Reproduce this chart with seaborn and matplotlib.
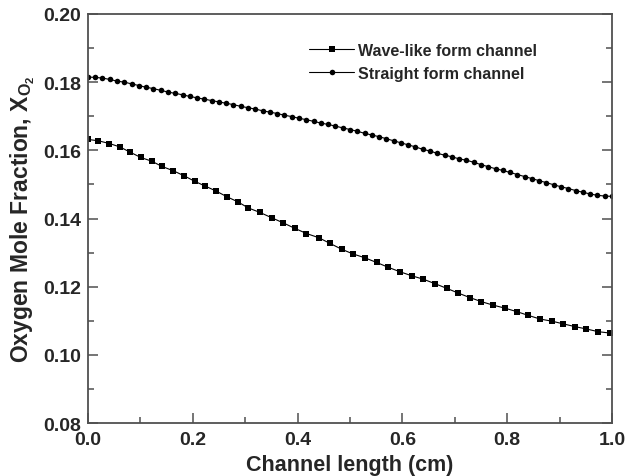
import matplotlib
matplotlib.use("Agg")
import matplotlib.pyplot as plt
import seaborn as sns
import pandas as pd
from matplotlib.ticker import MultipleLocator

# Wave-like form channel: oxygen mole fraction along the channel
wave_x = [0.000, 0.020, 0.041, 0.061, 0.080, 0.101, 0.122, 0.141, 0.163, 0.184,
          0.204, 0.224, 0.244, 0.265, 0.286, 0.306, 0.328, 0.351, 0.373, 0.395,
          0.417, 0.440, 0.462, 0.484, 0.506, 0.528, 0.551, 0.573, 0.595, 0.618,
          0.640, 0.662, 0.685, 0.707, 0.729, 0.751, 0.773, 0.796, 0.818, 0.840,
          0.863, 0.885, 0.907, 0.929, 0.951, 0.974, 0.996]
wave_y = [0.1632, 0.1628, 0.1620, 0.1610, 0.1595, 0.1579, 0.1568, 0.1553, 0.1540, 0.1525,
          0.1509, 0.1495, 0.1481, 0.1464, 0.1449, 0.1431, 0.1418, 0.1402, 0.1387, 0.1371,
          0.1356, 0.1344, 0.1327, 0.1310, 0.1296, 0.1285, 0.1271, 0.1257, 0.1244, 0.1232,
          0.1222, 0.1209, 0.1195, 0.1181, 0.1168, 0.1156, 0.1146, 0.1137, 0.1127, 0.1116,
          0.1105, 0.1099, 0.1091, 0.1083, 0.1076, 0.1068, 0.1064]

# Straight form channel: 73 equally spaced stations along 1 cm
straight_x = [i / 72 for i in range(73)]
straight_y = [0.1815, 0.1814, 0.1812, 0.1808, 0.1803, 0.1800, 0.1795, 0.1790, 0.1785, 0.1781,
              0.1776, 0.1771, 0.1767, 0.1763, 0.1758, 0.1754, 0.1750, 0.1746, 0.1742, 0.1738,
              0.1734, 0.1729, 0.1725, 0.1721, 0.1716, 0.1712, 0.1708, 0.1703, 0.1699, 0.1694,
              0.1690, 0.1685, 0.1680, 0.1676, 0.1671, 0.1666, 0.1661, 0.1656, 0.1650, 0.1645,
              0.1640, 0.1634, 0.1628, 0.1622, 0.1616, 0.1610, 0.1603, 0.1598, 0.1591, 0.1586,
              0.1581, 0.1575, 0.1571, 0.1565, 0.1558, 0.1552, 0.1546, 0.1541, 0.1535, 0.1529,
              0.1523, 0.1517, 0.1511, 0.1505, 0.1499, 0.1493, 0.1488, 0.1482, 0.1477, 0.1472,
              0.1468, 0.1466, 0.1465]

series_names = ["Wave-like form channel", "Straight form channel"]

x_ticks = [0.0, 0.2, 0.4, 0.6, 0.8, 1.0]
y_ticks = [0.08, 0.10, 0.12, 0.14, 0.16, 0.18, 0.20]

df = pd.concat([
    pd.DataFrame({"x": wave_x, "y": wave_y, "series": series_names[0]}),
    pd.DataFrame({"x": straight_x, "y": straight_y, "series": series_names[1]}),
], ignore_index=True)

sns.set_style("ticks")
plt.rcParams["font.family"] = ["Liberation Sans", "DejaVu Sans"]
plt.rcParams["font.weight"] = "bold"
plt.rcParams["mathtext.fontset"] = "custom"
plt.rcParams["mathtext.rm"] = "Liberation Sans:bold"
plt.rcParams["mathtext.bf"] = "Liberation Sans:bold"
plt.rcParams["mathtext.it"] = "Liberation Sans:bold"

fig = plt.figure(figsize=(6.28, 4.77), dpi=100)
ax = fig.add_axes([0.140, 0.111, 0.8345, 0.8576])

sns.lineplot(data=df, x="x", y="y", hue="series", style="series",
             palette={series_names[0]: "black", series_names[1]: "black"},
             markers={series_names[0]: "s", series_names[1]: "o"},
             dashes=False, markersize=4.0, markeredgewidth=0,
             linewidth=0.8, sort=False, ax=ax)

ax.set_xlim(0.0, 1.0)
ax.set_ylim(0.08, 0.20)
ax.set_xticks(x_ticks)
ax.set_yticks(y_ticks)
ax.set_xticklabels([f"{v:.1f}" for v in x_ticks])
ax.set_yticklabels([f"{v:.2f}" for v in y_ticks])
ax.xaxis.set_minor_locator(MultipleLocator(0.1))
ax.yaxis.set_minor_locator(MultipleLocator(0.01))

for side in ["left", "right", "top", "bottom"]:
    ax.spines[side].set_visible(True)
    ax.spines[side].set_color("#505050")
    ax.spines[side].set_linewidth(1.3)

ax.tick_params(axis="both", which="major", direction="in", length=7, width=1.1,
               color="#505050", labelsize=14, right=True, top=False)
ax.tick_params(axis="x", which="major", pad=6)
ax.tick_params(axis="y", which="major", pad=5)
ax.tick_params(axis="both", which="minor", direction="in", length=4, width=1.1,
               color="#505050", right=True, top=False)
for lab in ax.get_xticklabels() + ax.get_yticklabels():
    lab.set_fontweight("bold")

ax.set_xlabel("Channel length (cm)", fontsize=15.5, fontweight="bold", labelpad=4)
ax.set_ylabel(r"Oxygen Mole Fraction, X$_{\mathbf{O}_{\mathbf{2}}}$",
              fontsize=16.5, fontweight="bold", labelpad=4)

handles, labels = ax.get_legend_handles_labels()
ax.legend(handles=handles, labels=labels, loc="upper left",
          bbox_to_anchor=(0.395, 0.965), frameon=False,
          handlelength=2.8, handletextpad=0.25, labelspacing=0.5,
          prop={"weight": "bold", "size": 11.5})

fig.savefig("out.png", dpi=100)
